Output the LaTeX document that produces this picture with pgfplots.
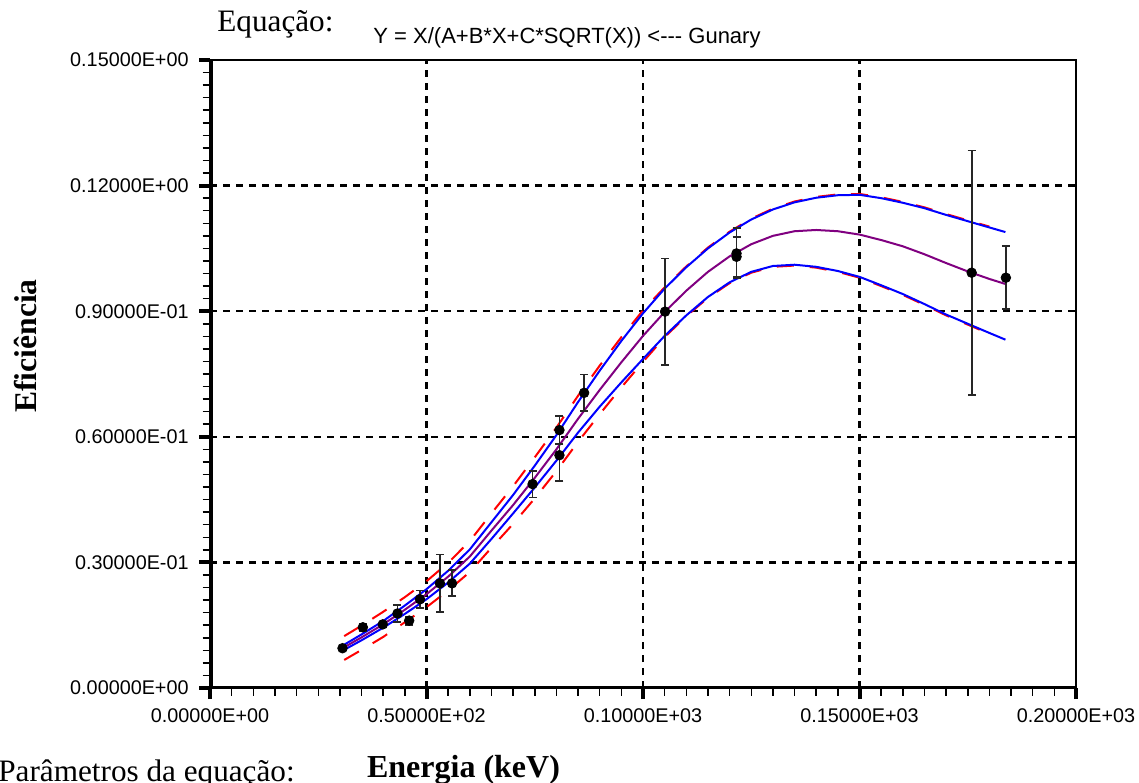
\documentclass[border=0pt]{standalone}
\usepackage{fontspec}
\setmainfont{Liberation Serif}
\setsansfont{Liberation Sans}
\usepackage{pgfplots}
\pgfplotsset{compat=1.18}
\usepackage{pgfplotstable}

\definecolor{cblue}{RGB}{0,0,255}
\definecolor{cpurple}{RGB}{128,0,128}
\definecolor{cred}{RGB}{255,0,0}

% fitted curve (purple)
\pgfplotstableread{
x y
30.6 0.0095
35 0.0121
40 0.0152
45 0.0187
50 0.0224
55 0.0266
60 0.0314
65 0.0376
70 0.0437
75 0.0502
80 0.0570
85 0.0643
90 0.0712
95 0.0778
100 0.0841
105 0.0898
110 0.0949
115 0.0994
120 0.1031
125 0.1060
130 0.1080
135 0.1091
140 0.1094
145 0.1091
150 0.1083
155 0.1070
160 0.1055
165 0.1036
170 0.1015
175 0.0995
180 0.0977
183.7 0.0965
}\fitcurve

% upper blue
\pgfplotstableread{
x y
30.6 0.0101
35 0.0128
40 0.0160
45 0.0197
50 0.0236
55 0.0280
60 0.0331
65 0.0396
70 0.0461
75 0.0531
80 0.0604
85 0.0683
90 0.0758
95 0.0829
100 0.0895
105 0.0954
110 0.1005
115 0.1050
120 0.1088
125 0.1119
130 0.1143
135 0.1160
140 0.1171
145 0.1177
150 0.1178
155 0.1170
160 0.1159
165 0.1146
170 0.1130
175 0.1115
180 0.1100
183.7 0.1089
}\upblue

% lower blue
\pgfplotstableread{
x y
30.6 0.0089
35 0.0114
40 0.0144
45 0.0177
50 0.0212
55 0.0252
60 0.0297
65 0.0356
70 0.0417
75 0.0479
80 0.0543
85 0.0610
90 0.0672
95 0.0730
100 0.0786
105 0.0841
110 0.0890
115 0.0934
120 0.0969
125 0.0994
130 0.1008
135 0.1011
140 0.1006
145 0.0996
150 0.0982
155 0.0962
160 0.0941
165 0.0917
170 0.0892
175 0.0870
180 0.0848
183.7 0.0832
}\lowblue

% upper red (dashed)
\pgfplotstableread{
x y
31 0.0124
35 0.0149
40 0.0182
45 0.0217
50 0.0255
55 0.0299
60 0.0351
65 0.0417
70 0.0482
75 0.0551
80 0.0622
85 0.0698
90 0.0770
95 0.0838
100 0.0902
105 0.0957
110 0.1007
115 0.1052
120 0.1090
125 0.1121
130 0.1145
135 0.1162
140 0.1173
145 0.1179
150 0.1180
155 0.1172
160 0.1161
165 0.1148
170 0.1132
175 0.1117
180 0.1102
}\upred

% lower red (dashed)
\pgfplotstableread{
x y
31 0.0067
35 0.0091
40 0.0122
45 0.0157
50 0.0193
55 0.0233
60 0.0277
65 0.0335
70 0.0392
75 0.0453
80 0.0518
85 0.0588
90 0.0654
95 0.0718
100 0.0779
105 0.0838
110 0.0888
115 0.0932
120 0.0967
125 0.0992
130 0.1006
135 0.1009
140 0.1004
145 0.0994
150 0.0980
155 0.0960
160 0.0939
165 0.0915
170 0.0890
175 0.0868
180 0.0846
}\lowred

% measured points
\pgfplotstableread{
x y e
30.6 0.0095 0.0004
35.3 0.0145 0.0009
39.9 0.0152 0.0006
43.3 0.0178 0.0021
46.0 0.0161 0.0010
48.5 0.0212 0.0021
53.1 0.0250 0.0069
55.9 0.0250 0.0031
74.5 0.0487 0.0032
80.7 0.0616 0.0033
80.7 0.0556 0.0062
86.4 0.0705 0.0044
105.1 0.0899 0.0127
121.6 0.1038 0.0060
121.6 0.1030 0.0048
175.9 0.0992 0.0292
183.8 0.0980 0.0075
}\points

\begin{document}
\begin{tikzpicture}[x=1pt,y=1pt]
\useasboundingbox (0,0) rectangle (569.5,391);
\begin{axis}[
  at={(105pt,47pt)}, anchor=south west,
  width=433pt, height=314pt, scale only axis,
  xmin=0, xmax=200, ymin=0, ymax=0.15,
  xtick={0,50,100,150,200},
  xticklabels={0.00000E+00,0.50000E+02,0.10000E+03,0.15000E+03,0.20000E+03},
  ytick={0,0.03,0.06,0.09,0.12,0.15},
  yticklabels={0.00000E+00,0.30000E-01,0.60000E-01,0.90000E-01,0.12000E+00,0.15000E+00},
  minor x tick num=9, minor y tick num=9,
  tick pos=left, tick align=outside,
  major tick length=5.5pt, minor tick length=3.75pt,
  major tick style={line width=2pt, black},
  minor tick style={line width=0.75pt, black},
  grid=major,
  major grid style={black, line width=1.1pt, dash pattern=on 3.5pt off 3pt},
  axis line style={line width=1pt},
  xticklabel style={font=\fontsize{9.9}{12}\sffamily, anchor=north, inner sep=0pt},
  yticklabel style={font=\fontsize{9.9}{12}\sffamily, anchor=east, inner sep=0pt},
  xticklabel shift=4.5pt,
  yticklabel shift=5pt,
]
\addplot[cred, line width=1pt, dash pattern=on 8.5pt off 8pt] table {\upred};
\addplot[cred, line width=1pt, dash pattern=on 8.5pt off 8pt] table {\lowred};
\addplot[cblue, line width=1pt] table {\upblue};
\addplot[cblue, line width=1pt] table {\lowblue};
\addplot[cpurple, line width=1pt] table {\fitcurve};
\addplot[only marks, mark=*, mark size=2.4pt, black,
  error bars/.cd, y dir=both, y explicit,
  error bar style={line width=0.9pt, black!85},
  error mark options={rotate=90, mark size=2pt, line width=0.9pt, black!85}]
  table[x=x, y=y, y error=e] {\points};
\draw[line width=2.5pt, line cap=rect] (rel axis cs:0,1) -- (rel axis cs:0,0) -- (rel axis cs:1,0);
\end{axis}
\node[anchor=base west, inner sep=0pt, font=\fontsize{15.6}{18}\selectfont] at (108.5,375) {Equação:};
\node[anchor=base west, inner sep=0pt, font=\fontsize{11}{13}\sffamily] at (186.5,369.3) {Y = X/(A+B*X+C*SQRT(X)) <{-}{-}{-} Gunary};
\node[anchor=base, inner sep=0pt, font=\fontsize{16}{19}\selectfont\bfseries] at (231.75,2.5) {Energia (keV)};
\node[anchor=base, rotate=90, inner sep=0pt, font=\fontsize{15.8}{19}\selectfont\bfseries] at (18.4,218) {Eficiência};
\node[anchor=base west, inner sep=0pt, font=\fontsize{15.6}{18}\selectfont] at (-1,0.5) {Parâmetros da equação:};
\end{tikzpicture}
\end{document}
